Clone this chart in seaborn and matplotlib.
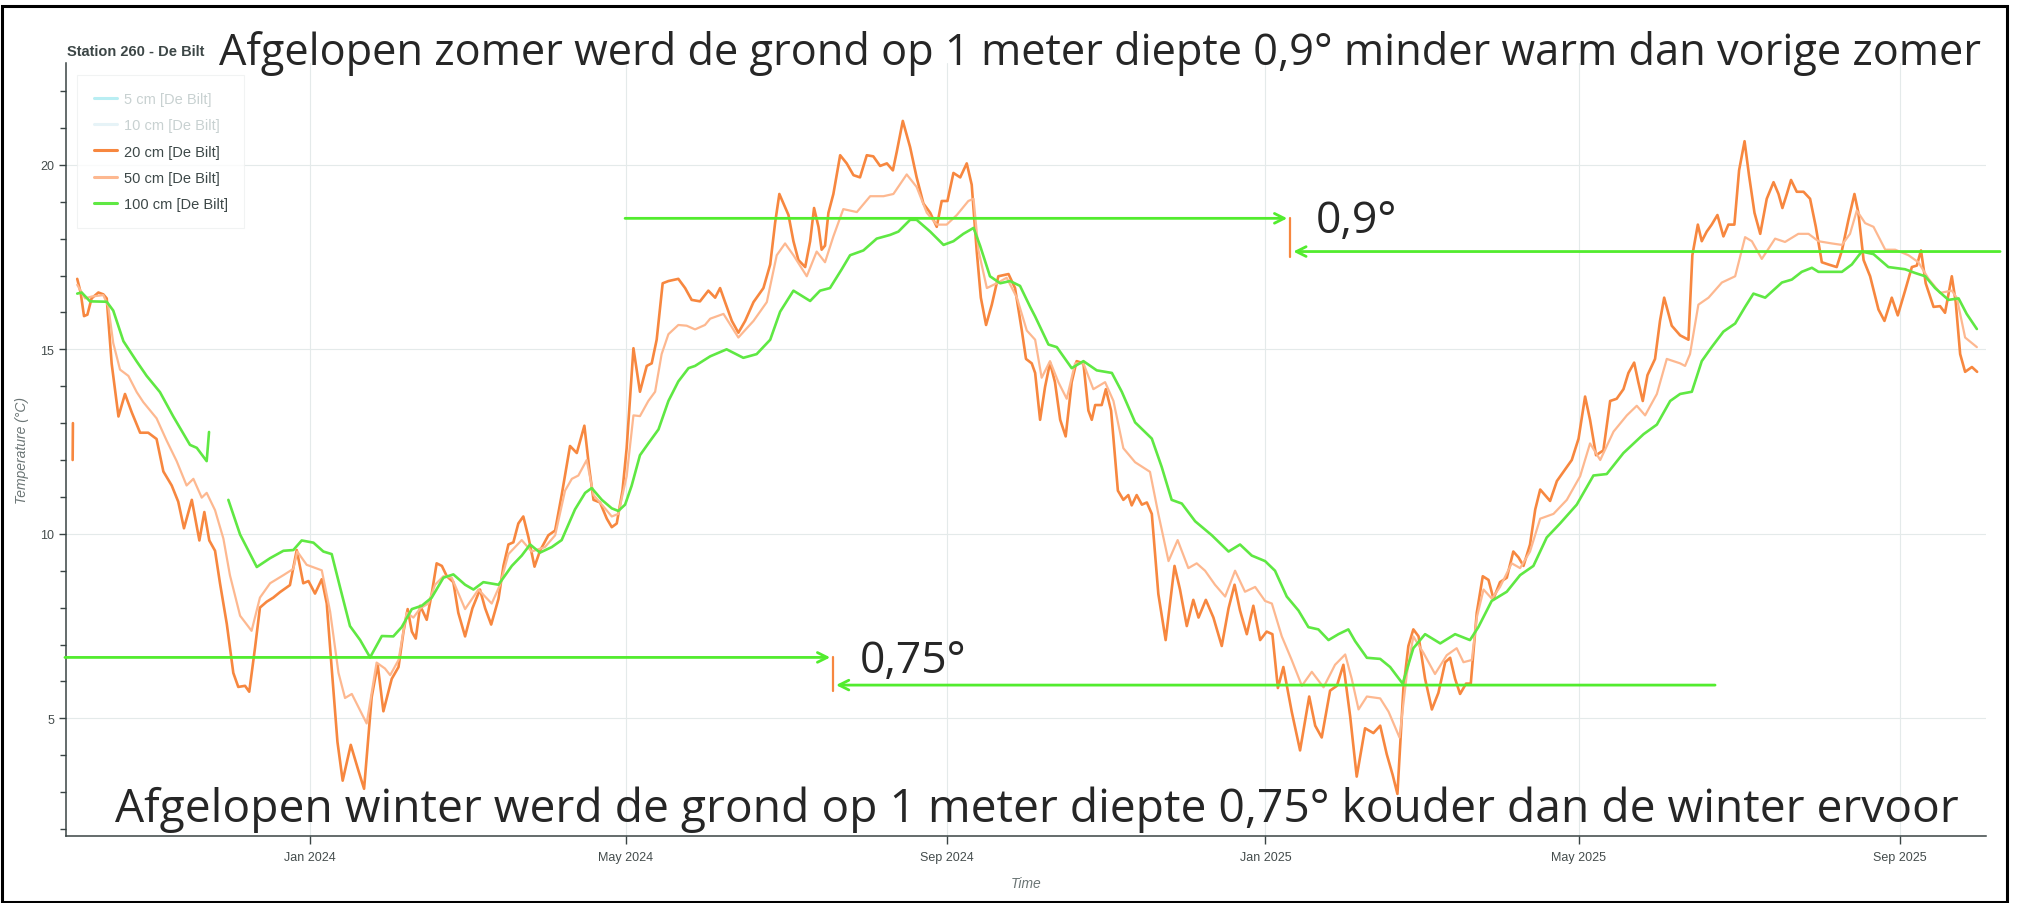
import numpy as np
import pandas as pd
import matplotlib
matplotlib.use("Agg")
import matplotlib.pyplot as plt
import matplotlib.dates as mdates
from matplotlib.lines import Line2D
from matplotlib.patches import Rectangle
from matplotlib.ticker import MultipleLocator
import seaborn as sns

# days are counted from 1 Jan 2024, values in degrees C
BASE = pd.Timestamp("2024-01-01")
nan = np.nan

t20 = [
    (-90.95, 12.0), (-90.85, 13.0), (-90.0, nan),
    (-89.2, 16.91), (-87.9, 16.54), (-86.6, 15.90), (-85.3, 15.94), (-83.7, 16.38), (-81.1, 16.54),
    (-79.2, 16.49), (-77.9, 16.38), (-76.0, 14.61), (-73.4, 13.18), (-70.9, 13.79), (-68.3, 13.29),
    (-65.1, 12.74), (-62.0, 12.74), (-58.8, 12.57), (-56.2, 11.69), (-53.0, 11.31), (-50.5, 10.87),
    (-48.3, 10.15), (-45.3, 10.92), (-42.4, 9.82), (-40.5, 10.59), (-38.6, 9.82), (-36.4, 9.54),
    (-34.5, 8.66), (-31.9, 7.56), (-29.4, 6.23), (-27.5, 5.85), (-24.9, 5.88), (-23.3, 5.72),
    (-21.1, 6.90), (-19.2, 8.0), (-16.6, 8.16), (-14.1, 8.27), (-11.5, 8.42), (-7.7, 8.61),
    (-5.1, 9.56), (-2.6, 8.66), (-0.6, 8.72), (1.9, 8.38), (4.5, 8.77), (6.4, 8.11), (8.3, 6.35),
    (10.5, 4.36), (12.5, 3.31), (15.6, 4.28), (18.5, 3.59), (20.7, 3.09), (23.6, 5.57), (25.9, 6.46),
    (28.1, 5.19), (31.3, 6.07), (33.9, 6.39), (35.8, 7.35), (37.4, 7.96), (39.0, 7.35), (40.5, 7.16),
    (42.2, 8.05), (44.7, 7.67), (46.6, 8.37), (48.5, 9.20), (50.5, 9.13), (52.4, 8.85), (54.9, 8.69),
    (56.8, 7.86), (59.4, 7.22), (62.2, 7.98), (65.1, 8.49), (67.1, 7.98), (69.4, 7.54), (72.2, 8.24),
    (74.1, 9.13), (76.0, 9.71), (77.9, 9.77), (79.8, 10.28), (81.7, 10.47), (83.7, 9.90), (86.0, 9.11),
    (88.1, 9.54), (91.3, 9.96), (93.9, 10.09), (96.4, 11.05), (99.6, 12.38), (102.2, 12.19),
    (105.1, 12.93), (106.9, 11.81), (108.6, 10.92), (111.1, 10.85), (113.7, 10.41), (115.6, 10.18),
    (117.5, 10.28), (119.7, 11.17), (121.3, 12.32), (123.9, 15.03), (126.4, 13.85), (129.0, 14.55),
    (130.9, 14.62), (132.8, 15.26), (135.1, 16.79), (137.3, 16.85), (141.1, 16.91), (143.7, 16.66),
    (146.2, 16.34), (149.4, 16.30), (152.6, 16.59), (155.2, 16.40), (157.1, 16.66), (159.0, 16.28),
    (161.6, 15.77), (164.1, 15.45), (166.7, 15.77), (169.9, 16.28), (173.7, 16.66), (176.3, 17.30),
    (178.2, 18.44), (179.8, 19.21), (183.3, 18.64), (185.2, 17.93), (187.1, 17.42), (189.7, 17.23),
    (191.6, 17.93), (193.1, 18.83), (194.8, 18.32), (196.0, 17.70), (197.3, 17.81), (198.6, 18.70),
    (200.5, 19.21), (203.1, 20.26), (205.6, 20.04), (208.2, 19.72), (210.7, 19.66), (213.3, 20.26),
    (215.8, 20.23), (218.4, 19.97), (221.0, 20.04), (223.3, 19.85), (224.8, 20.36), (227.1, 21.19),
    (229.9, 20.48), (232.4, 19.66), (235.0, 18.95), (237.6, 18.70), (240.1, 18.32), (242.0, 19.02),
    (244.2, 19.02), (246.5, 19.78), (249.1, 19.66), (251.6, 20.04), (253.5, 19.46), (255.4, 17.68),
    (257.0, 16.40), (259.0, 15.66), (261.2, 16.21), (263.7, 16.98), (267.6, 17.04), (270.1, 16.66),
    (272.7, 15.51), (274.3, 14.74), (276.5, 14.62), (277.8, 14.36), (279.7, 13.09), (281.6, 13.98),
    (283.5, 14.64), (285.4, 14.11), (287.4, 13.09), (289.5, 12.64), (291.8, 14.11), (293.7, 14.68),
    (296.3, 14.62), (298.2, 13.34), (299.5, 13.09), (300.8, 13.49), (303.3, 13.49), (304.9, 13.92),
    (306.9, 13.34), (309.5, 11.17), (311.6, 10.92), (313.5, 11.05), (314.8, 10.77), (316.7, 11.05),
    (318.7, 10.79), (320.6, 10.85), (322.5, 10.54), (325.0, 8.37), (327.8, 7.12), (331.2, 9.13),
    (333.3, 8.49), (335.9, 7.50), (338.4, 8.21), (340.4, 7.73), (343.2, 8.21), (346.1, 7.73),
    (349.3, 6.96), (351.9, 7.98), (354.2, 8.62), (356.3, 7.92), (358.9, 7.28), (361.4, 8.05),
    (364.0, 7.12), (366.5, 7.35), (368.7, 7.28), (370.8, 5.82), (372.9, 6.39), (376.1, 5.18),
    (379.3, 4.13), (382.8, 5.59), (385.1, 4.80), (387.6, 4.48), (390.8, 5.75), (393.4, 5.88),
    (395.9, 6.45), (398.5, 5.05), (401.0, 3.42), (404.2, 4.73), (407.4, 4.60), (410.0, 4.80),
    (412.5, 4.03), (414.8, 3.46), (416.6, 2.95), (418.9, 5.82), (420.8, 6.96), (422.7, 7.41),
    (424.7, 7.22), (427.2, 6.07), (429.8, 5.24), (432.3, 5.69), (434.9, 6.52), (436.8, 6.64),
    (438.7, 6.07), (440.6, 5.66), (442.9, 5.94), (444.7, 5.94), (447.0, 7.86), (449.3, 8.85),
    (451.5, 8.75), (453.4, 8.24), (455.9, 8.69), (458.5, 8.81), (461.0, 9.52), (463.0, 9.36),
    (464.9, 9.13), (467.4, 9.71), (469.4, 10.66), (471.3, 11.20), (475.1, 10.89), (477.7, 11.43),
    (480.2, 11.68), (483.4, 12.0), (486.0, 12.58), (488.5, 13.72), (490.4, 13.09), (492.7, 12.13),
    (495.5, 12.26), (498.1, 13.60), (500.6, 13.66), (503.2, 13.92), (505.1, 14.36), (507.3, 14.64),
    (508.9, 14.11), (510.6, 13.60), (512.4, 14.30), (515.3, 14.74), (517.2, 15.77), (518.8, 16.40),
    (521.7, 15.64), (524.9, 15.38), (528.1, 15.26), (529.6, 17.55), (531.7, 18.38), (533.2, 17.93),
    (535.1, 18.19), (537.0, 18.38), (539.2, 18.64), (541.5, 18.06), (543.4, 18.38), (545.7, 18.38),
    (547.5, 19.85), (549.6, 20.64), (551.3, 19.72), (553.4, 18.70), (555.6, 18.13), (558.1, 19.08),
    (560.7, 19.53), (562.6, 19.21), (564.1, 18.83), (565.8, 19.21), (567.4, 19.59), (569.6, 19.27),
    (572.2, 19.27), (574.7, 19.08), (576.9, 18.32), (579.2, 17.36), (581.7, 17.30), (584.9, 17.23),
    (586.9, 17.68), (589.4, 18.51), (591.7, 19.21), (593.2, 18.70), (595.2, 17.42), (597.7, 16.98),
    (600.9, 16.08), (603.2, 15.77), (606.0, 16.40), (608.3, 15.92), (611.1, 16.59), (613.7, 17.23),
    (615.6, 17.27), (617.2, 17.68), (619.0, 16.79), (622.0, 16.15), (624.5, 16.17), (626.4, 15.99),
    (629.0, 16.98), (630.5, 16.28), (632.2, 14.87), (634.1, 14.39), (636.7, 14.52), (638.7, 14.39),
]

t50 = [
    (-89.2, 16.75), (-86.2, 16.38), (-83.7, 16.43), (-79.2, 16.47), (-77.3, 16.16), (-75.4, 15.17),
    (-72.8, 14.45), (-69.6, 14.28), (-66.4, 13.84), (-63.9, 13.57), (-58.8, 13.13), (-54.9, 12.52),
    (-51.1, 11.97), (-47.3, 11.31), (-44.7, 11.49), (-41.5, 10.98), (-39.6, 11.11), (-36.4, 10.64),
    (-33.2, 9.87), (-30.7, 8.88), (-26.8, 7.78), (-22.4, 7.37), (-19.2, 8.27), (-15.3, 8.66),
    (-10.2, 8.88), (-6.4, 9.05), (-4.9, 9.52), (-1.3, 9.16), (4.5, 9.01), (7.7, 7.89), (10.9, 6.23),
    (13.4, 5.55), (16.0, 5.66), (21.7, 4.86), (25.5, 6.51), (28.7, 6.35), (30.7, 6.17), (33.9, 6.58),
    (37.0, 7.86), (39.6, 7.73), (42.2, 7.98), (45.3, 8.11), (47.9, 8.62), (51.1, 8.85), (54.3, 8.81),
    (59.4, 7.96), (64.5, 8.49), (69.6, 8.11), (72.8, 8.62), (76.0, 9.45), (81.1, 9.83), (84.9, 9.52),
    (90.0, 9.64), (93.9, 9.96), (97.7, 11.17), (100.3, 11.49), (102.8, 11.58), (106.0, 12.0),
    (108.6, 11.05), (111.8, 10.79), (115.6, 10.47), (118.1, 10.54), (121.3, 11.56), (123.9, 13.21),
    (126.4, 13.19), (129.6, 13.60), (132.2, 13.85), (134.7, 14.87), (137.3, 15.41), (141.1, 15.66),
    (144.3, 15.64), (147.5, 15.54), (151.3, 15.66), (153.3, 15.83), (158.4, 15.96), (164.1, 15.32),
    (169.9, 15.77), (175.0, 16.28), (178.8, 17.55), (182.0, 17.87), (185.2, 17.55), (190.3, 16.98),
    (194.1, 17.65), (197.3, 17.36), (200.5, 18.06), (204.3, 18.80), (209.5, 18.72), (214.6, 19.15),
    (219.7, 19.15), (223.5, 19.21), (228.6, 19.74), (232.4, 19.40), (236.3, 18.70), (240.1, 18.38),
    (243.9, 18.38), (247.8, 18.64), (252.2, 19.02), (254.2, 19.08), (256.1, 17.68), (259.3, 16.66),
    (263.1, 16.79), (266.9, 16.94), (270.8, 16.40), (274.6, 15.51), (277.8, 15.26), (280.3, 14.23),
    (283.5, 14.68), (286.7, 14.11), (289.9, 13.66), (293.1, 14.62), (296.3, 14.62), (300.1, 13.92),
    (304.6, 14.11), (307.8, 13.60), (311.6, 12.32), (316.1, 11.94), (321.8, 11.68), (325.0, 10.54),
    (328.9, 9.26), (332.4, 9.83), (336.5, 9.07), (339.7, 9.20), (342.9, 9.0), (346.7, 8.62),
    (350.6, 8.30), (354.4, 9.0), (358.2, 8.43), (362.1, 8.56), (365.9, 8.18), (368.5, 8.11),
    (372.3, 7.22), (376.1, 6.58), (380.0, 5.88), (383.8, 6.26), (388.3, 5.84), (392.7, 6.45),
    (396.6, 6.73), (399.1, 6.07), (401.7, 5.24), (404.9, 5.59), (410.0, 5.54), (413.2, 5.18),
    (417.4, 4.48), (420.2, 6.20), (422.7, 7.22), (426.6, 6.77), (431.0, 6.20), (435.5, 6.71),
    (439.3, 6.90), (441.9, 6.52), (445.1, 6.58), (447.0, 7.73), (449.6, 8.49), (452.8, 8.24),
    (455.9, 8.56), (460.4, 9.20), (463.6, 9.07), (467.4, 9.52), (471.3, 10.41), (476.4, 10.54),
    (481.5, 10.92), (486.6, 11.56), (490.4, 12.45), (494.3, 12.0), (499.4, 12.77), (504.5, 13.21),
    (508.3, 13.47), (511.5, 13.21), (516.0, 13.79), (519.8, 14.74), (524.9, 14.62), (526.8, 14.55),
    (528.7, 14.87), (531.9, 16.21), (535.8, 16.40), (540.9, 16.81), (546.0, 16.98), (549.8, 18.04),
    (552.4, 17.93), (556.2, 17.45), (561.3, 18.0), (565.1, 17.91), (570.2, 18.13), (574.1, 18.13),
    (577.9, 17.93), (583.0, 17.87), (586.9, 17.83), (590.0, 18.13), (592.6, 18.76), (595.8, 18.42),
    (599.0, 18.32), (603.5, 17.70), (607.3, 17.70), (612.4, 17.55), (616.2, 17.36), (620.1, 16.91),
    (624.5, 16.53), (629.0, 16.59), (630.9, 16.40), (634.1, 15.32), (638.6, 15.06),
]

t100 = [
    (-89.2, 16.51), (-87.5, 16.54), (-84.3, 16.30), (-77.9, 16.29), (-75.4, 16.05), (-71.5, 15.22),
    (-66.4, 14.67), (-62.6, 14.28), (-57.5, 13.84), (-52.4, 13.18), (-46.0, 12.41), (-43.4, 12.33),
    (-39.6, 11.97), (-38.7, 12.76), (-35.0, nan),
    (-31.3, 10.92), (-26.8, 9.98), (-20.4, 9.10), (-15.3, 9.34), (-10.2, 9.54), (-6.4, 9.56),
    (-3.2, 9.82), (1.3, 9.76), (5.1, 9.52), (8.3, 9.45), (11.5, 8.55), (15.3, 7.50), (19.2, 7.12),
    (23.0, 6.65), (27.5, 7.23), (31.9, 7.22), (35.1, 7.47), (39.0, 7.96), (42.8, 8.05),
    (46.6, 8.27), (51.1, 8.81), (54.9, 8.90), (59.4, 8.62), (62.6, 8.49), (66.4, 8.69), (72.2, 8.62),
    (77.3, 9.13), (81.1, 9.41), (84.3, 9.71), (88.1, 9.49), (92.6, 9.64), (96.4, 9.83), (101.5, 10.66),
    (105.4, 11.11), (107.9, 11.24), (111.8, 10.92), (115.6, 10.69), (118.1, 10.62), (120.7, 10.79),
    (123.2, 11.30), (126.4, 12.13), (129.6, 12.45), (133.5, 12.83), (137.3, 13.60), (141.1, 14.13),
    (145.0, 14.49), (147.5, 14.55), (153.3, 14.81), (159.6, 15.0), (166.0, 14.77), (171.1, 14.87),
    (176.3, 15.26), (180.1, 16.02), (185.2, 16.59), (191.6, 16.31), (195.4, 16.59), (199.2, 16.66),
    (203.7, 17.17), (206.9, 17.55), (212.0, 17.68), (217.1, 18.0), (222.2, 18.10), (225.4, 18.19),
    (229.9, 18.51), (232.4, 18.51), (237.6, 18.19), (242.7, 17.83), (246.5, 17.93), (250.3, 18.13),
    (254.2, 18.29), (256.7, 17.81), (260.5, 16.98), (264.4, 16.79), (268.2, 16.85), (272.0, 16.72),
    (275.9, 16.15), (277.8, 15.89), (282.9, 15.13), (286.1, 15.06), (291.8, 14.49), (296.3, 14.68),
    (301.4, 14.43), (307.2, 14.36), (311.0, 13.85), (316.1, 13.02), (322.5, 12.58), (326.3, 11.81),
    (330.1, 10.92), (334.0, 10.82), (339.1, 10.34), (345.5, 9.96), (351.9, 9.52), (356.3, 9.71),
    (360.8, 9.41), (365.9, 9.26), (369.7, 9.0), (374.2, 8.30), (378.7, 7.92), (382.5, 7.47),
    (386.3, 7.41), (390.2, 7.12), (394.0, 7.28), (397.8, 7.41), (400.4, 7.09), (402.3, 6.90),
    (404.9, 6.64), (410.0, 6.61), (413.8, 6.39), (418.6, 5.94), (422.7, 6.90), (427.2, 7.28),
    (433.0, 7.03), (438.7, 7.28), (444.4, 7.12), (447.6, 7.47), (452.7, 8.18), (458.5, 8.43),
    (463.6, 8.88), (468.7, 9.13), (473.8, 9.90), (478.9, 10.28), (485.3, 10.79), (491.7, 11.58),
    (496.8, 11.62), (503.2, 12.19), (510.9, 12.70), (516.0, 12.96), (521.1, 13.60), (524.9, 13.79),
    (529.4, 13.85), (533.2, 14.68), (537.0, 15.06), (541.5, 15.48), (546.0, 15.70), (549.8, 16.15),
    (553.0, 16.51), (557.5, 16.40), (563.9, 16.81), (567.7, 16.89), (571.5, 17.10), (575.4, 17.21),
    (577.9, 17.10), (586.9, 17.10), (590.7, 17.30), (594.5, 17.65), (599.0, 17.58), (604.7, 17.23),
    (611.1, 17.17), (614.9, 17.07), (618.8, 16.98), (622.6, 16.66), (627.7, 16.34), (631.6, 16.38),
    (634.7, 15.96), (638.6, 15.55),
]

legend_labels = ["5 cm [De Bilt]", "10 cm [De Bilt]", "20 cm [De Bilt]", "50 cm [De Bilt]", "100 cm [De Bilt]"]
legend_colors = ["#b9eef3", "#e6f3f7", "#f7873f", "#fdb890", "#5fe843"]

# annotation values: levels of the 1 m series and the day span of each arrow
summer_levels = [18.55, 17.65]
summer_arrow_days = [(120.7, 374.4), (647.5, 376.7)]
summer_mark_day = 375.5
winter_levels = [6.65, 5.90]
winter_arrow_days = [(-93.9, 199.3), (538.3, 201.5)]
winter_mark_day = 200.4

top_text = "Afgelopen zomer werd de grond op 1 meter diepte 0,9° minder warm dan vorige zomer"
bottom_text = "Afgelopen winter werd de grond op 1 meter diepte 0,75° kouder dan de winter ervoor"


def day(d):
    return BASE + pd.to_timedelta(d, unit="D")


def to_frame(pairs):
    df = pd.DataFrame(pairs, columns=["day", "temp"])
    df["segment"] = df["temp"].isna().cumsum()
    df = df.dropna()
    df["time"] = day(df["day"])
    return df


sns.set_style("white")
plt.rcParams["font.family"] = ["Liberation Sans", "DejaVu Sans"]

W, H = 2021, 904
fig = plt.figure(figsize=(W / 100, H / 100), dpi=100)
ax = fig.add_axes([66 / W, 1 - 837 / H, 1920 / W, 773 / H])

for pairs, col, lw in [(t20, legend_colors[2], 1.9), (t50, legend_colors[3], 1.6), (t100, legend_colors[4], 1.9)]:
    sns.lineplot(data=to_frame(pairs), x="time", y="temp", units="segment", estimator=None,
                 color=col, linewidth=lw, ax=ax, legend=False)

ax.set_xlim(day(-93.5), day(642.1))
ax.set_ylim(1.81, 22.76)

ax.xaxis.set_major_locator(mdates.MonthLocator(bymonth=[1, 5, 9]))
ax.xaxis.set_major_formatter(mdates.DateFormatter("%b %Y"))
ax.yaxis.set_major_locator(MultipleLocator(5))
ax.yaxis.set_minor_locator(MultipleLocator(1))
ax.grid(True, which="major", color="#e4eaea", lw=0.8)
ax.set_axisbelow(True)

for s in ["top", "right"]:
    ax.spines[s].set_visible(False)
for s in ["left", "bottom"]:
    ax.spines[s].set_color("#3a4444")
    ax.spines[s].set_linewidth(1.1)
ax.tick_params(axis="both", which="both", direction="out", color="#3a4444", labelcolor="#444c4c", labelsize=9)
ax.tick_params(axis="y", which="major", length=5, width=1, left=True)
ax.tick_params(axis="y", which="minor", length=4, width=1, left=True)
ax.tick_params(axis="x", which="major", length=5.5, width=1, pad=5.5, bottom=True)

ax.set_xlabel("Time", fontsize=10, style="italic", color="#6b7575")
ax.set_ylabel("Temperature (°C)", fontsize=10, style="italic", color="#6b7575")
ax.xaxis.set_label_coords(0.5, -0.052)
ax.yaxis.set_label_coords(-0.0195, 0.5)

handles = [Line2D([], [], color=c, lw=2.2) for c in legend_colors]
leg = ax.legend(handles, legend_labels, loc="upper left", bbox_to_anchor=(0.0057, 0.9845),
                borderaxespad=0, fontsize=10.5, handlelength=1.6, handletextpad=0.45,
                labelspacing=0.85, borderpad=1.15, fancybox=False, frameon=True)
leg.get_frame().set_edgecolor("#eef0f0")
leg.get_frame().set_linewidth(0.8)
for i, t in enumerate(leg.get_texts()):
    t.set_color("#c8d1d1" if i < 2 else "#3d4848")

# arrows comparing the 1 m depth
green = "#52ec2e"
orange = legend_colors[2]
for levels, spans, mark in [(summer_levels, summer_arrow_days, summer_mark_day),
                            (winter_levels, winter_arrow_days, winter_mark_day)]:
    for lvl, (start, end) in zip(levels, spans):
        ax.annotate("", xy=(day(end), lvl), xytext=(day(start), lvl),
                    arrowprops=dict(arrowstyle="->,head_length=0.7,head_width=0.35", color=green, lw=2,
                                    shrinkA=0, shrinkB=0))
    ax.plot([day(mark), day(mark)], [levels[0], levels[1] - 0.15], color=orange, lw=1.6)

big = ["Open Sans", "DejaVu Sans"]
ax.text(day(385.4), 18.18, "0,9°", fontsize=32, family=big, va="baseline", ha="left")
ax.text(day(210.7), 6.25, "0,75°", fontsize=32, family=big, va="baseline", ha="left")

fig.text(67 / W, 1 - 56 / H, "Station 260 - De Bilt", fontsize=10.5, fontweight="bold", color="#3c4646")
fig.text(219 / W, 1 - 65 / H, top_text, fontsize=31.2, family=big, va="baseline", ha="left")
fig.text(115 / W, 1 - 822 / H, bottom_text, fontsize=33.2, family=big, va="baseline", ha="left")

fig.patches.append(Rectangle((1.5 / W, 1.5 / H), (2007 - 1.5) / W, (897 - 1.5) / H,
                             transform=fig.transFigure, fill=False, edgecolor="black", lw=2.2))

fig.savefig("out.png", dpi=100)
